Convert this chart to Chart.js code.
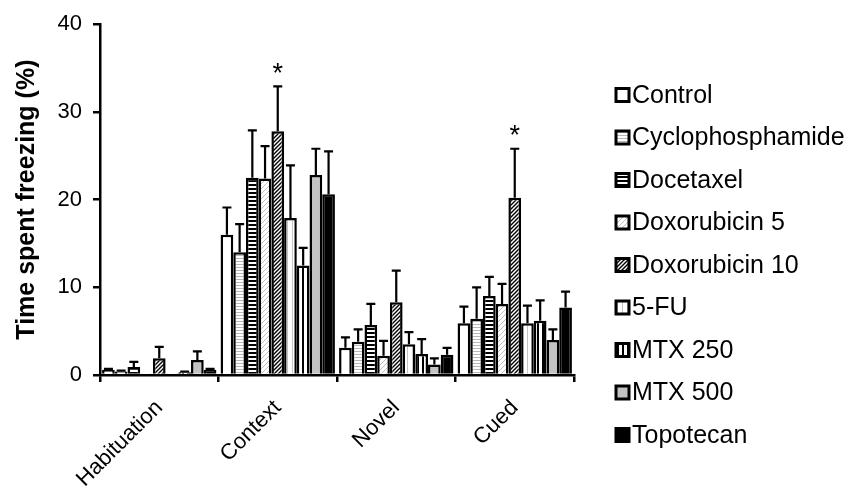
<!DOCTYPE html>
<html>
<head>
<meta charset="utf-8">
<script src="https://cdn.jsdelivr.net/npm/chart.js@4.4.1/dist/chart.umd.min.js"></script>
<style>
  html, body { margin: 0; padding: 0; background: #fff; }
</style>
</head>
<body>
<canvas id="freezing-chart" width="852" height="496"></canvas>
<script>
const phases = ['Habituation', 'Context', 'Novel', 'Cued'];
const seriesNames = ['Control', 'Cyclophosphamide', 'Docetaxel', 'Doxorubicin 5', 'Doxorubicin 10', '5-FU', 'MTX 250', 'MTX 500', 'Topotecan'];

// mean % freezing per phase, and SEM (upper error bar)
const control = [0.6, 16.0, 3.1, 5.9];
const controlErr = [0.1, 3.1, 1.2, 1.9];
const cyclophosphamide = [0.4, 14.0, 3.8, 6.4];
const cyclophosphamideErr = [0.1, 3.2, 1.4, 3.6];
const docetaxel = [0.9, 22.5, 5.7, 9.0];
const docetaxelErr = [0.6, 5.4, 2.4, 2.2];
const doxorubicin5 = [0.1, 22.4, 2.2, 8.1];
const doxorubicin5Err = [0.0, 3.7, 1.7, 2.3];
const doxorubicin10 = [1.9, 27.8, 8.3, 20.2];
const doxorubicin10Err = [1.3, 5.1, 3.6, 5.6];
const fiveFU = [0.1, 17.9, 3.5, 5.9];
const fiveFUErr = [0.0, 6.0, 1.4, 2.0];
const mtx250 = [0.3, 12.5, 2.4, 6.2];
const mtx250Err = [0.1, 2.0, 1.7, 2.3];
const mtx500 = [1.7, 22.8, 1.2, 4.0];
const mtx500Err = [1.0, 3.0, 0.7, 1.2];
const topotecan = [0.6, 20.6, 2.3, 7.7];
const topotecanErr = [0.1, 4.9, 0.8, 1.8];

const significance = ['', '*', '', '*']; // Doxorubicin 10 vs control
const yTicks = [0, 10, 20, 30, 40];

const means = [control, cyclophosphamide, docetaxel, doxorubicin5, doxorubicin10, fiveFU, mtx250, mtx500, topotecan];
const errors = [controlErr, cyclophosphamideErr, docetaxelErr, doxorubicin5Err, doxorubicin10Err, fiveFUErr, mtx250Err, mtx500Err, topotecanErr];

const FONT = "'Liberation Sans', Arial, sans-serif";

function pattern(size, draw) {
  const c = document.createElement('canvas');
  c.width = c.height = size;
  const g = c.getContext('2d');
  g.fillStyle = '#fff';
  g.fillRect(0, 0, size, size);
  draw(g, size);
  return g.createPattern(c, 'repeat');
}

function diagonal(color, width) {
  return (g, s) => {
    g.strokeStyle = color;
    g.lineWidth = width;
    g.beginPath();
    g.moveTo(-1, s + 1); g.lineTo(s + 1, -1);
    g.moveTo(-2, 2); g.lineTo(2, -2);
    g.moveTo(s - 2, s + 2); g.lineTo(s + 2, s - 2);
    g.stroke();
  };
}

const fills = [
  '#fff',
  pattern(3, (g, s) => { g.fillStyle = '#b8b8b8'; g.fillRect(0, 0, s, 1); }),
  pattern(4, (g, s) => { g.fillStyle = '#000'; g.fillRect(0, 0, s, 2); }),
  pattern(5, diagonal('#bdbdbd', 1)),
  pattern(4, diagonal('#000', 1.4)),
  pattern(5, (g, s) => { g.fillStyle = '#c4c4c4'; g.fillRect(2, 0, 1, s); }),
  pattern(5, (g, s) => { g.fillStyle = '#000'; g.fillRect(2, 0, 2, s); }),
  '#c3c3c3',
  '#000'
];

const errorBars = {
  id: 'errorBars',
  afterDatasetsDraw(chart) {
    const { ctx, scales: { y } } = chart;
    ctx.save();
    ctx.strokeStyle = '#000';
    ctx.lineWidth = 2.2;
    chart.data.datasets.forEach((ds, i) => {
      chart.getDatasetMeta(i).data.forEach((bar, j) => {
        const err = errors[i][j];
        if (!err) return;
        const top = y.getPixelForValue(ds.data[j] + err);
        ctx.beginPath();
        ctx.moveTo(bar.x, bar.y);
        ctx.lineTo(bar.x, top);
        ctx.moveTo(bar.x - 4.5, top);
        ctx.lineTo(bar.x + 4.5, top);
        ctx.stroke();
        if (i === 4 && significance[j]) {
          ctx.fillStyle = '#000';
          ctx.font = `27px ${FONT}`;
          ctx.textAlign = 'center';
          ctx.textBaseline = 'middle';
          ctx.fillText(significance[j], bar.x, top - 12);
        }
      });
    });
    ctx.restore();
  }
};

const sideLegend = {
  id: 'sideLegend',
  afterDraw(chart) {
    const { ctx } = chart;
    ctx.save();
    ctx.font = `25px ${FONT}`;
    ctx.textBaseline = 'middle';
    seriesNames.forEach((name, i) => {
      const cy = 95 + i * 42.5;
      ctx.fillStyle = fills[i];
      ctx.fillRect(616, cy - 6.5, 13, 13);
      ctx.strokeStyle = '#000';
      ctx.lineWidth = 3;
      ctx.strokeRect(616, cy - 6.5, 13, 13);
      ctx.fillStyle = '#000';
      ctx.fillText(name, 632, cy + 1);
    });
    ctx.restore();
  }
};

new Chart(document.getElementById('freezing-chart'), {
  type: 'bar',
  data: {
    labels: phases,
    datasets: seriesNames.map((name, i) => ({
      label: name,
      data: means[i],
      backgroundColor: fills[i],
      borderColor: '#000',
      borderWidth: 2.5,
      categoryPercentage: 0.965,
      barPercentage: 1.0,
    })),
  },
  options: {
    responsive: false,
    animation: false,
    layout: { padding: { top: 22, right: 278, left: 0, bottom: 0 } },
    plugins: { legend: { display: false }, tooltip: { enabled: false } },
    scales: {
      x: {
        grid: { offset: true, drawOnChartArea: false, color: '#000', lineWidth: 2.5, tickLength: 7 },
        border: { color: '#000', width: 2.5 },
        ticks: { color: '#000', font: { family: FONT, size: 22 }, minRotation: 45, maxRotation: 45, padding: 13 },
        afterFit: (s) => { s.height = 121; },
      },
      y: {
        min: 0,
        max: 40,
        afterBuildTicks: (s) => { s.ticks = yTicks.map((v) => ({ value: v })); },
        grid: { drawOnChartArea: false, color: '#000', lineWidth: 2.5, tickLength: 7 },
        border: { color: '#000', width: 2.5 },
        ticks: { color: '#000', font: { family: FONT, size: 22 }, padding: 11 },
        title: {
          display: true,
          text: 'Time spent freezing (%)',
          color: '#000',
          font: { family: FONT, size: 25, weight: 'bold' },
          padding: { top: 12, bottom: 0 },
        },
        afterFit: (s) => { s.width = 100; },
      },
    },
  },
  plugins: [errorBars, sideLegend],
});
</script>
</body>
</html>
